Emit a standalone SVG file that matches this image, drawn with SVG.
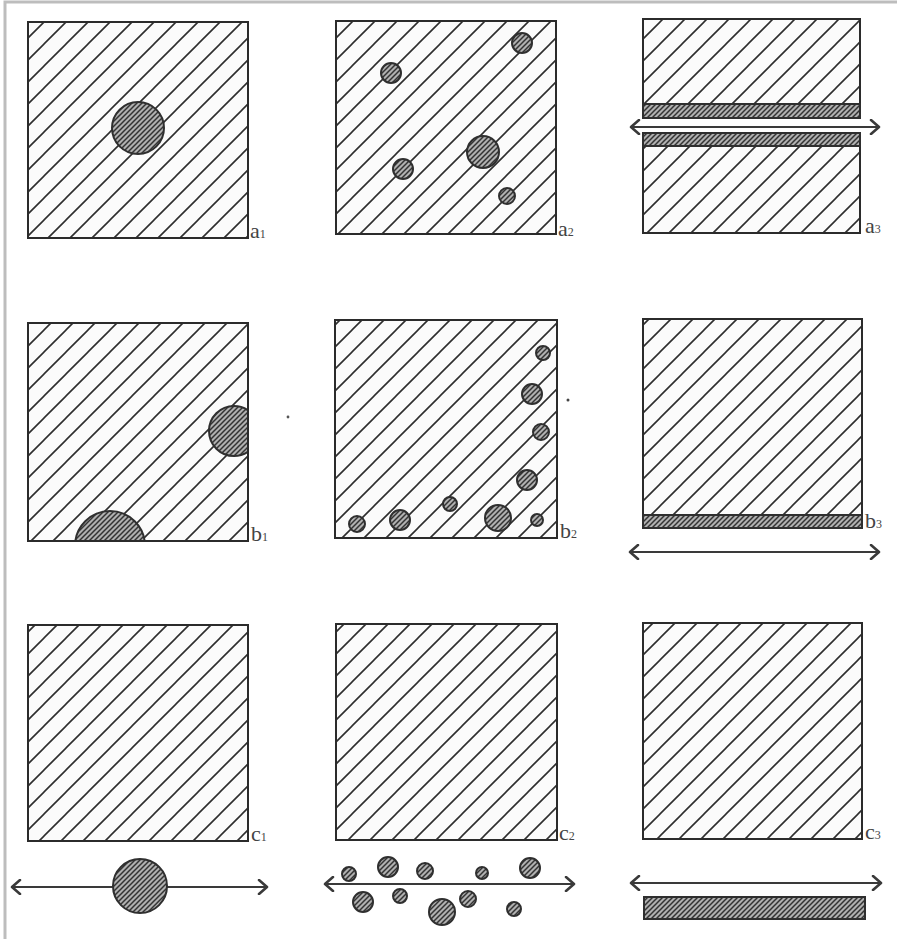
<svg xmlns="http://www.w3.org/2000/svg" width="897" height="939" viewBox="0 0 897 939">
<defs>
<pattern id="hatch" patternUnits="userSpaceOnUse" width="22" height="22">
<rect width="22" height="22" fill="#fbfbfb"/>
<path d="M-3,3 L3,-3 M0,22 L22,0 M19,25 L25,19" stroke="#2e2e2e" stroke-width="1.6"/>
</pattern>
<pattern id="dense" patternUnits="userSpaceOnUse" width="5" height="5">
<rect width="5" height="5" fill="#b0b0b0"/>
<path d="M-1,1 L1,-1 M0,5 L5,0 M4,6 L6,4" stroke="#333" stroke-width="1.5"/>
</pattern>
<marker id="chev" viewBox="0 0 12 16" markerWidth="12" markerHeight="16" refX="10" refY="8" orient="auto-start-reverse" markerUnits="userSpaceOnUse">
<path d="M2,1 L10,8 L2,15" fill="none" stroke="#3a3a3a" stroke-width="2.6" stroke-linecap="round" stroke-linejoin="round"/>
</marker>
<clipPath id="clipB1"><rect x="28" y="323" width="220" height="218"/></clipPath>
</defs>
<style>
.panel{fill:url(#hatch);stroke:#2b2b2b;stroke-width:2}
.inc{fill:url(#dense);stroke:#2f2f2f;stroke-width:2}
.lbl{font-family:"Liberation Serif","DejaVu Serif",serif;font-size:22px;fill:#444}
.sub{font-size:12px}
.arr{stroke:#3a3a3a;stroke-width:2;fill:none;marker-start:url(#chev);marker-end:url(#chev)}
</style>
<rect width="897" height="939" fill="#ffffff"/>
<g id="frame" stroke="#bdbdbd" stroke-width="3" fill="none">
<path d="M5,939 L5,2 L897,2"/>
</g>

<g id="a1">
<rect class="panel" x="28" y="22" width="220" height="216"/>
<circle class="inc" cx="138" cy="128" r="26"/>
<text class="lbl" x="250" y="238">a<tspan class="sub">1</tspan></text>
</g>

<g id="a2">
<rect class="panel" x="336" y="21" width="220" height="213"/>
<circle class="inc" cx="522" cy="43" r="10"/>
<circle class="inc" cx="391" cy="73" r="10"/>
<circle class="inc" cx="483" cy="152" r="16"/>
<circle class="inc" cx="403" cy="169" r="10"/>
<circle class="inc" cx="507" cy="196" r="8"/>
<text class="lbl" x="558" y="236">a<tspan class="sub">2</tspan></text>
</g>

<g id="a3">
<rect class="panel" x="643" y="19" width="217" height="85"/>
<rect class="inc" x="643" y="104" width="217" height="14"/>
<rect class="panel" x="643" y="133" width="217" height="100"/>
<rect class="inc" x="643" y="133" width="217" height="13"/>
<text class="lbl" x="865" y="233">a<tspan class="sub">3</tspan></text>
</g>

<g id="b1">
<rect class="panel" x="28" y="323" width="220" height="218"/>
<g clip-path="url(#clipB1)">
<circle class="inc" cx="234" cy="431" r="25"/>
<circle class="inc" cx="110" cy="546" r="35"/>
</g>
<rect x="28" y="323" width="220" height="218" fill="none" stroke="#2b2b2b" stroke-width="2"/>
<circle cx="288" cy="417" r="1.4" fill="#555"/>
<text class="lbl" x="251" y="541">b<tspan class="sub">1</tspan></text>
</g>

<g id="b2">
<rect class="panel" x="335" y="320" width="222" height="218"/>
<circle class="inc" cx="543" cy="353" r="7"/>
<circle class="inc" cx="532" cy="394" r="10"/>
<circle class="inc" cx="541" cy="432" r="8"/>
<circle class="inc" cx="527" cy="480" r="10"/>
<circle class="inc" cx="450" cy="504" r="7"/>
<circle class="inc" cx="498" cy="518" r="13"/>
<circle class="inc" cx="537" cy="520" r="6"/>
<circle class="inc" cx="400" cy="520" r="10"/>
<circle class="inc" cx="357" cy="524" r="8"/>
<circle cx="568" cy="400" r="1.5" fill="#444"/>
<text class="lbl" x="560" y="538">b<tspan class="sub">2</tspan></text>
</g>

<g id="b3">
<rect class="panel" x="643" y="319" width="219" height="196"/>
<rect class="inc" x="643" y="515" width="219" height="13"/>
<text class="lbl" x="865" y="528">b<tspan class="sub">3</tspan></text>
</g>

<g id="c1">
<rect class="panel" x="28" y="625" width="220" height="216"/>
<text class="lbl" x="251" y="841">c<tspan class="sub">1</tspan></text>
</g>

<g id="c2">
<rect class="panel" x="336" y="624" width="221" height="216"/>
<text class="lbl" x="559" y="840">c<tspan class="sub">2</tspan></text>
</g>

<g id="c3">
<rect class="panel" x="643" y="623" width="219" height="216"/>
<text class="lbl" x="865" y="839">c<tspan class="sub">3</tspan></text>
</g>

<g id="connectors">
<line class="arr" x1="631" y1="127" x2="879" y2="127"/>
<line class="arr" x1="630" y1="552" x2="879" y2="552"/>
<line class="arr" x1="12" y1="887" x2="267" y2="887"/>
<line class="arr" x1="325" y1="884" x2="574" y2="884"/>
<line class="arr" x1="631" y1="883" x2="881" y2="883"/>
</g>

<g id="c1-inclusion">
<circle class="inc" cx="140" cy="886" r="27"/>
</g>

<g id="c2-inclusions">
<circle class="inc" cx="349" cy="874" r="7"/>
<circle class="inc" cx="388" cy="867" r="10"/>
<circle class="inc" cx="425" cy="871" r="8"/>
<circle class="inc" cx="482" cy="873" r="6"/>
<circle class="inc" cx="530" cy="868" r="10"/>
<circle class="inc" cx="363" cy="902" r="10"/>
<circle class="inc" cx="400" cy="896" r="7"/>
<circle class="inc" cx="442" cy="912" r="13"/>
<circle class="inc" cx="468" cy="899" r="8"/>
<circle class="inc" cx="514" cy="909" r="7"/>
</g>

<g id="c3-layer">
<rect class="inc" x="644" y="897" width="221" height="22"/>
</g>
</svg>
